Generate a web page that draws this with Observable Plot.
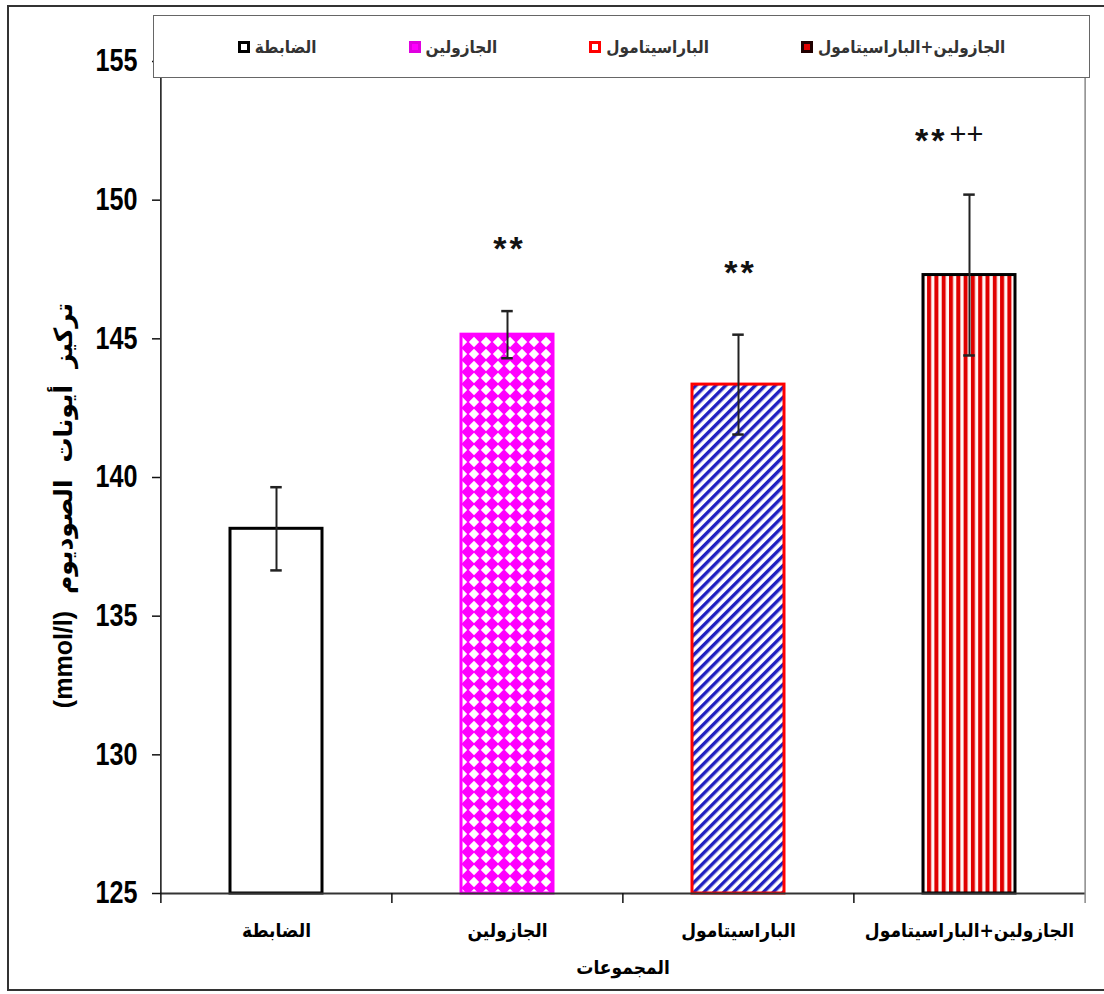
<!DOCTYPE html>
<html>
<head>
<meta charset="utf-8">
<script src="https://cdn.jsdelivr.net/npm/d3@7"></script>
<script src="https://cdn.jsdelivr.net/npm/@observablehq/plot@0.6"></script>
<style>
  body { margin: 0; background: #fff; }
  #wrap { position: relative; width: 1104px; height: 994px; overflow: hidden; background: #fff; }
  #chart { position: absolute; left: 0; top: 0; }
  #frame { position: absolute; left: 7px; top: 5px; width: 1110px; height: 986px; border: 2px solid #333; box-sizing: border-box; pointer-events: none; }
  #legend { position: absolute; left: 153px; top: 15px; width: 937px; height: 63px; border: 1.5px solid #666; background: #fff; box-sizing: border-box;
            display: flex; justify-content: center; align-items: center; gap: 92px;
            font-family: "DejaVu Sans Condensed", "DejaVu Sans", sans-serif; font-size: 17px; font-weight: bold; color: #333; }
  .item { display: flex; align-items: center; gap: 5px; }
  .sw { width: 6px; height: 6px; border: 3px solid #000; }
</style>
</head>
<body>
<div id="wrap">
  <div id="chart"></div>
  <div id="legend"></div>
  <div id="frame"></div>
</div>
<script>
// ---- data ----
const groups = ["الضابطة", "الجازولين", "الباراسيتامول", "الجازولين+الباراسيتامول"];
const means = [138.15, 145.15, 143.35, 147.3];
const errors = [1.5, 0.85, 1.8, 2.9];
const sigMarks = ["", "**", "**", "**"];
const sigMarks2 = ["", "", "", "++"];
const yTicks = [125, 130, 135, 140, 145, 150, 155];
const xTitle = "المجموعات";
const yTitle = "تركيز أيونات الصوديوم (mmol/l)";

// ---- styles ----
const barFill = ["#ffffff", "url(#patJaz)", "url(#patPara)", "url(#patCombo)"];
const barStroke = ["#000000", "#ff00ff", "#ff0000", "#000000"];
const swatchStyle = [
  "background:#fff;border-color:#000",
  "background:#ff00ff;border-color:#e000e0",
  "background:#fff;border-color:#ff0000",
  "background:#e00000;border-color:#200000"
];

const data = groups.map((g, i) => ({group: g, mean: means[i], err: errors[i], sig: sigMarks[i], sig2: sigMarks2[i], idx: i}));

const W = 1104, H = 994;
const mL = 160, mR = 19, mT = 61, mB = 101;
const padIn = 0.6, padOut = 0.3;
const step = (W - mL - mR) / groups.length;
const bandW = step * (1 - padIn);
const capW = 12;
const capInset = (bandW - capW) / 2;
const yMin = yTicks[0], yMax = yTicks[yTicks.length - 1];
const tickDrop = (yMax - yMin) * 10 / (H - mT - mB);

const arabicFont = '"DejaVu Sans Condensed", "DejaVu Sans", sans-serif';
const RLE = "\u202B", PDF = "\u202C";

const chart = Plot.plot({
  width: W, height: H,
  marginLeft: mL, marginRight: mR, marginTop: mT, marginBottom: mB,
  style: {background: "transparent", color: "#000"},
  x: {domain: groups, paddingInner: padIn, paddingOuter: padOut, axis: null},
  y: {domain: [yMin, yMax], axis: null},
  color: {type: "identity"},
  marks: [
    Plot.barY(data, {x: "group", y1: yMin, y2: "mean", fill: d => barFill[d.idx], stroke: d => barStroke[d.idx], strokeWidth: 3}),
    // error bars
    Plot.ruleX(data, {x: "group", y1: d => d.mean - d.err, y2: d => d.mean + d.err, stroke: "#222", strokeWidth: 2}),
    Plot.tickY(data, {x: "group", y: d => d.mean + d.err, insetLeft: capInset, insetRight: capInset, stroke: "#222", strokeWidth: 2.5}),
    Plot.tickY(data, {x: "group", y: d => d.mean - d.err, insetLeft: capInset, insetRight: capInset, stroke: "#222", strokeWidth: 2.5}),
    // significance marks
    Plot.text(data.filter(d => d.sig && !d.sig2), {x: "group", y: d => d.mean + d.err, text: "sig", dy: -62, dx: 2, fontSize: 34, fontWeight: "bold", fontFamily: "Liberation Sans, sans-serif", fill: "#111"}),
    Plot.text(data.filter(d => d.sig2), {x: "group", y: d => d.mean + d.err, text: "sig", textAnchor: "end", dx: -22, dy: -54, fontSize: 34, fontWeight: "bold", fontFamily: "Liberation Sans, sans-serif", fill: "#111"}),
    Plot.text(data.filter(d => d.sig2), {x: "group", y: d => d.mean + d.err, text: "sig2", textAnchor: "start", dx: -20, dy: -60, fontSize: 29, fontFamily: "Liberation Sans, sans-serif", fill: "#111"}),
    // axes
    Plot.ruleY([yMin], {stroke: "#333", strokeWidth: 2}),
    Plot.ruleX([groups[0]], {x: d => d, dx: -step / 2, y1: yMin - tickDrop, y2: yMax, stroke: "#111", strokeWidth: 1.5}),
    Plot.ruleX([groups[groups.length - 1]], {x: d => d, dx: step / 2, y1: yMin - tickDrop, y2: yMax, stroke: "#888", strokeWidth: 1.5}),
    Plot.ruleX(groups.slice(1), {x: d => d, dx: -step / 2, y1: yMin - tickDrop, y2: yMin, stroke: "#111", strokeWidth: 1.5}),
    Plot.axisY({ticks: yTicks, tickSize: 8, tickPadding: 15, label: null, tickFormat: d => String(d),
                fontSize: 31, fontWeight: "bold", fontFamily: '"Liberation Sans", sans-serif', stroke: "#111", strokeWidth: 1.5}),
    Plot.axisX({tickSize: 0, tickPadding: 30, label: null, fontSize: 19, fontWeight: "bold", fontFamily: arabicFont}),
    Plot.text([xTitle], {frameAnchor: "bottom", dy: 80, text: d => d, fontSize: 19, fontWeight: "bold", fontFamily: arabicFont}),
    Plot.text([yTitle], {frameAnchor: "left", textAnchor: "middle", dx: -97, dy: 28, rotate: -90, text: d => RLE + d + PDF, fontSize: 25, fontWeight: "bold", fontFamily: '"Liberation Sans", "DejaVu Sans", sans-serif'})
  ]
});

// patterns
const svg = d3.select(chart);
const defs = svg.insert("defs", ":first-child");
const pj = defs.append("pattern").attr("id", "patJaz").attr("patternUnits", "userSpaceOnUse").attr("width", 12).attr("height", 12);
pj.append("rect").attr("width", 12).attr("height", 12).attr("fill", "#ff00ff");
pj.append("path").attr("d", "M6,0.8 L11.2,6 L6,11.2 L0.8,6 Z").attr("fill", "#ffffff");
const pp = defs.append("pattern").attr("id", "patPara").attr("patternUnits", "userSpaceOnUse").attr("width", 7).attr("height", 7).attr("patternTransform", "rotate(45)");
pp.append("rect").attr("width", 7).attr("height", 7).attr("fill", "#ffffff");
pp.append("rect").attr("width", 3.4).attr("height", 7).attr("fill", "#2020c0");
const pc = defs.append("pattern").attr("id", "patCombo").attr("patternUnits", "userSpaceOnUse").attr("width", 7.3).attr("height", 10);
pc.append("rect").attr("width", 7.3).attr("height", 10).attr("fill", "#fff6f4");
pc.append("rect").attr("width", 4).attr("height", 10).attr("fill", "#e00000");

// condensed tick labels like the reference
svg.selectAll('g[aria-label="y-axis tick label"] text')
  .attr("textLength", 42).attr("lengthAdjust", "spacingAndGlyphs");
// spacing of the title words and the significance stars
svg.selectAll("text").filter(function () { return this.textContent.includes("mmol"); })
  .style("word-spacing", "10px");
svg.selectAll("text").filter(function () { return this.textContent === "**"; })
  .style("letter-spacing", "3px");

document.getElementById("chart").appendChild(chart);

// legend
const legend = d3.select("#legend");
groups.forEach((g, i) => {
  const it = legend.append("div").attr("class", "item");
  it.append("span").attr("class", "sw").attr("style", swatchStyle[i]);
  it.append("span").text(g);
});
</script>
</body>
</html>
